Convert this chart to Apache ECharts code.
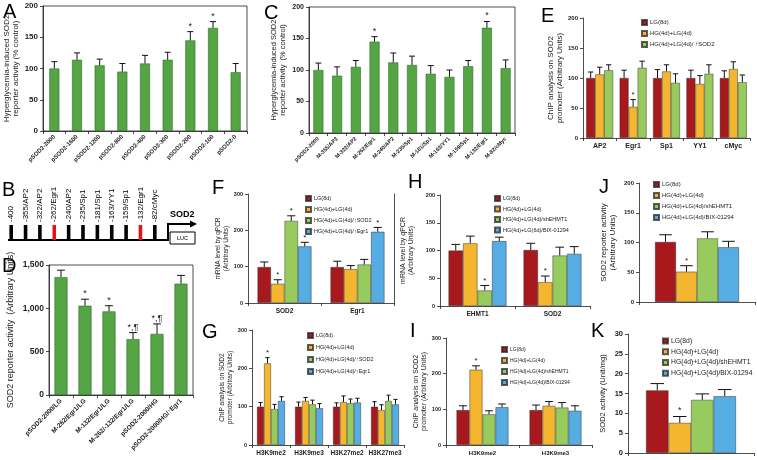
<!DOCTYPE html>
<html><head><meta charset="utf-8">
<script src="https://cdn.jsdelivr.net/npm/echarts@6/dist/echarts.min.js"></script>
<style>html,body{margin:0;padding:0;background:#fff}#c{width:757px;height:460px}</style>
</head><body><div id="c"></div>
<script>
// ---------------- DATA ----------------
const catsA = ['pSOD2-2000','pSOD2-1600','pSOD2-1200','pSOD2-800','pSOD2-400','pSOD2-300','pSOD2-200','pSOD2-100','pSOD2-0'];
const valsA = [100,114,105,95,108,114,145,165,94];
const errsA = [11,11,10,13,13,12,14,10,14];
const marksA = ['','','','','','','*','*',''];

const catsC = ['pSOD2-2000','M-355/AP2','M-322/AP2','M-262/Egr1','M-240/AP2','M-235/Sp1','M-181/Sp1','M-163/YY1','M-159/Sp1','M-132/Egr1','M-82/cMyc'];
const valsC = [100,91,105,145,112,108,94,89,106,167,103];
const errsC = [11,14,10,8,15,14,13,11,9,10,13];
const marksC = ['','','','*','','','','','','*',''];

const siteLabelsB = ['-400','-355/AP2','-322/AP2','-262/Egr1','-240/AP2','-235/Sp1','-181/Sp1','-163/YY1','-159/Sp1','-132/Egr1','-82/cMyc'];
const siteHighlightB = [0,0,0,1,0,0,0,0,0,1,0];

const catsD = ['pSOD2-2000/LG','M-262/Egr1/LG','M-132/Egr1/LG','M-262/-132/Egr1/LG','pSOD2-2000/HG','pSOD2-2000/HG/↑Egr1'];
const valsD = [1360,1030,965,645,705,1285];
const errsD = [80,75,65,75,115,95];
const marksD = ['','*','*','*,¶','*,¶',''];

const catsE = ['AP2','Egr1','Sp1','YY1','cMyc'];
const namesE = ['LG(8d)','HG(4d)+LG(4d)','HG(4d)+LG(4d)/ ↑SOD2'];
const lgE = [100,100,100,100,100];   const lgErrE = [10,13,14,13,12];
const hgE = [106,52,111,90,115];     const hgErrE = [12,12,11,14,12];
const sodE = [113,117,92,107,93];    const sodErrE = [9,11,15,15,12];
const hgMarksE = ['','*','','',''];

const catsF = ['SOD2','Egr1'];
const namesF = ['LG(8d)','HG(4d)+LG(4d)','HG(4d)+LG(4d)/↑SOD2','HG(4d)+LG(4d)/↑Egr1'];
const lgF = [99,99];   const lgErrF = [14,16];
const hgF = [53,93];   const hgErrF = [11,10];
const sodF = [226,106]; const sodErrF = [14,14];
const egrF = [156,196]; const egrErrF = [11,12];
const hgMarksF = ['*',''], sodMarksF = ['*',''], egrMarksF = ['*','*'];

const catsG = ['H3K9me2','H3K9me3','H3K27me2','H3K27me3'];
const lgG = [100,100,100,100];  const lgErrG = [11,12,10,13];
const hgG = [213,115,112,91];   const hgErrG = [15,9,16,14];
const sodG = [94,106,109,115];  const sodErrG = [12,11,11,15];
const egrG = [115,96,111,106];  const egrErrG = [11,12,11,13];
const hgMarksG = ['*','','',''];

const catsH = ['EHMT1','SOD2'];
const namesH = ['LG(8d)','HG(4d)+LG(4d)','HG(4d)+LG(4d)/shEHMT1','HG(4d)+LG(6d)/BIX-01294'];
const lgH = [100,101]; const lgErrH = [11,12];
const hgH = [113,43];  const hgErrH = [13,11];
const shH = [28,91];   const shErrH = [9,15];
const bixH = [117,94]; const bixErrH = [7,13];
const hgMarksH = ['','*'], shMarksH = ['*',''];

const catsI = ['H3K9me2','H3K9me3'];
const namesI = ['LG(8d)','HG(4d)+LG(4d)','HG(4d)+LG(4d)/shEHMT1','HG(4d)+LG(4d)/BIX-01294'];
const lgI = [98,98];   const lgErrI = [12,14];
const hgI = [211,110]; const hgErrI = [11,12];
const shI = [86,105];  const shErrI = [10,14];
const bixI = [106,96]; const bixErrI = [9,14];
const hgMarksI = ['*',''];

const catsJ = [''];
const namesJ = ['LG(8d)','HG(4d)+LG(4d)','HG(4d)+LG(4d)/shEHMT1','HG(4d)+LG(4d)/BIX-01294'];
const lgJ = [101]; const lgErrJ = [12];
const hgJ = [51];  const hgErrJ = [10];
const shJ = [107]; const shErrJ = [11];
const bixJ = [92]; const bixErrJ = [10];
const hgMarksJ = ['*'];

const catsK = [''];
const namesK = ['LG(8d)','HG(4d)+LG(4d)','HG(4d)+LG(4d)/shEHMT1','HG(4d)+LG(4d)/BIX-01294'];
const lgK = [15.8]; const lgErrK = [1.7];
const hgK = [7.6];  const hgErrK = [1.6];
const shK = [13.4]; const shErrK = [1.5];
const bixK = [14.3]; const bixErrK = [1.7];
const hgMarksK = ['*'];

// ---------------- STYLE ----------------
const FONT = '"Liberation Sans", Arial, sans-serif';
const C_DKGREEN = '#55A545', C_RED = '#A8191D', C_YEL = '#F4B52F', C_GRN = '#98CB5D', C_BLUE = '#56ADE4';
const INK = '#222';

const option = {animation:false, backgroundColor:'#fff', grid:[], xAxis:[], yAxis:[], series:[], legend:[], graphic:[]};

function makeErr(k, n, bw, marks, fs) {
  return function (params, api) {
    const i = api.value(0), v = api.value(1), e = api.value(2);
    const c = api.coord([i, v]);
    const t = api.coord([i, v + e]);
    const x = c[0] - n * bw / 2 + bw * (k + 0.5);
    const cap = Math.max(2, bw * 0.3);
    const ch = [
      {type:'line', shape:{x1:x, y1:c[1], x2:x, y2:t[1]}, style:{stroke:'#111', lineWidth:1}},
      {type:'line', shape:{x1:x - cap, y1:t[1], x2:x + cap, y2:t[1]}, style:{stroke:'#111', lineWidth:1}}
    ];
    const m = marks ? marks[params.dataIndex] : '';
    if (m) ch.push({type:'text', x:x, y:t[1] - 1, style:{text:m, fontSize:fs, fontFamily:FONT, fill:INK, align:'center', verticalAlign:'bottom'}});
    return {type:'group', children:ch};
  };
}

function addPanel(p) {
  const gi = option.grid.length;
  option.grid.push({left:p.left, top:p.top, width:p.width, height:p.height, show:!!p.box, borderColor:INK, borderWidth:0.8, backgroundColor:'transparent'});
  option.xAxis.push({type:'category', gridIndex:gi, data:p.cats,
    axisLine:{lineStyle:{color:INK, width:0.8}},
    axisTick:{show:true, length:3, lineStyle:{color:INK, width:0.8}},
    axisLabel:{interval:0, rotate:p.xRotate || 0, fontSize:p.xFs, fontWeight:'bold', fontFamily:FONT, color:INK, margin:p.xMargin || 5}});
  const yi = option.yAxis.length;
  option.yAxis.push({type:'value', gridIndex:gi, min:0, max:p.max, interval:p.interval,
    axisLine:{show:true, lineStyle:{color:INK, width:0.8}},
    axisTick:{show:true, length:3, lineStyle:{color:INK, width:0.8}},
    splitLine:{show:false},
    axisLabel:{fontSize:p.yFs, fontWeight:'bold', fontFamily:FONT, color:INK, margin:p.yMargin || 5},
    name:p.yName, nameLocation:'middle', nameGap:p.nameGap, nameRotate:90,
    nameTextStyle:{fontSize:p.nameFs, fontFamily:FONT, color:INK, lineHeight:p.nameFs + 1, fontWeight:p.nameBold ? 'bold' : 'normal'}});
  if (p.rightLine) {
    option.yAxis.push({type:'value', gridIndex:gi, position:'right', min:0, max:p.max, interval:p.interval,
      axisLine:{show:true, lineStyle:{color:INK, width:0.8}}, axisTick:{show:false}, axisLabel:{show:false}, splitLine:{show:false}});
  }
  const n = p.series.length;
  p.series.forEach((s, k) => {
    option.series.push({type:'bar', name:s.name, xAxisIndex:gi, yAxisIndex:yi, data:s.values,
      barWidth:p.barWidth, barGap:'0%',
      itemStyle:{color:s.color, borderColor:s.border || 'rgba(40,40,40,0.75)', borderWidth:0.6}});
    option.series.push({type:'custom', xAxisIndex:gi, yAxisIndex:yi, encode:{x:0, y:1}, z:5,
      data:s.values.map((v, i) => [i, v, s.errs[i]]),
      renderItem:makeErr(k, n, p.barWidth, s.marks, p.markFs || 8)});
  });
  if (p.legend) {
    option.legend.push({orient:'vertical', left:p.legend.left, top:p.legend.top, icon:'rect',
      itemWidth:5, itemHeight:5, itemGap:p.legend.gap, selectedMode:false, padding:0,
      data:p.series.map(s => s.name),
      textStyle:{fontSize:p.legend.fs, fontFamily:FONT, color:INK, lineHeight:p.legend.fs + 1, padding:[0,0,0,-2]}});
  }
}

function quad(names, vals, errs, marks) {
  const cols = [C_RED, C_YEL, C_GRN, C_BLUE];
  return names.map((nm, k) => ({name:nm, color:cols[k], values:vals[k], errs:errs[k], marks:marks[k]}));
}

// Panel A
addPanel({left:43, top:6, width:204, height:125, box:true, cats:catsA, max:200, interval:50,
  xRotate:45, xFs:6, yFs:8, barWidth:10, markFs:9,
  yName:'Hyperglycemia-induced SOD2\nreporter activity (% control)', nameGap:22, nameFs:8,
  series:[{name:'A', color:C_DKGREEN, border:'#2F6B28', values:valsA, errs:errsA, marks:marksA}]});

// Panel C
addPanel({left:309, top:7, width:206, height:126, box:true, cats:catsC, max:200, interval:50,
  xRotate:45, xFs:5.5, yFs:7, barWidth:10, markFs:9,
  yName:'Hyperglycemia-induced SOD2\nreporter activity  (% control)', nameGap:22, nameFs:7.5,
  series:[{name:'C', color:C_DKGREEN, border:'#2F6B28', values:valsC, errs:errsC, marks:marksC}]});

// Panel D
addPanel({left:49, top:265, width:144, height:130, box:true, cats:catsD, max:1500, interval:500,
  xRotate:45, xFs:6.5, yFs:8.5, barWidth:13, markFs:9,
  yName:'SOD2 reporter activity  (Arbitrary Units)', nameGap:33, nameFs:9,
  series:[{name:'D', color:C_DKGREEN, border:'#2F6B28', values:valsD, errs:errsD, marks:marksD}]});

// Panel E
addPanel({left:583, top:18, width:167, height:120, cats:catsE, max:200, interval:50,
  xFs:7, yFs:6, barWidth:9, markFs:8,
  yName:'ChIP analysis on SOD2\npromoter (Arbitrary Units)', nameGap:14, nameFs:8,
  legend:{left:641, top:19, gap:4, fs:6},
  series:[{name:namesE[0], color:C_RED, values:lgE, errs:lgErrE, marks:null},
          {name:namesE[1], color:C_YEL, values:hgE, errs:hgErrE, marks:hgMarksE},
          {name:namesE[2], color:C_GRN, values:sodE, errs:sodErrE, marks:null}]});

// Panel F
addPanel({left:248, top:194, width:146, height:109, rightLine:true, cats:catsF, max:300, interval:100,
  xFs:6.5, yFs:5.5, barWidth:13.5, markFs:8,
  yName:'mRNA level by qPCR\n(Arbitrary Units)', nameGap:15, nameFs:6.5,
  legend:{left:305, top:195, gap:4, fs:5.5},
  series:quad(namesF, [lgF,hgF,sodF,egrF], [lgErrF,hgErrF,sodErrF,egrErrF], [null,hgMarksF,sodMarksF,egrMarksF])});

// Panel G
addPanel({left:252, top:330, width:152, height:115, cats:catsG, max:300, interval:100,
  xFs:6.5, yFs:5.5, barWidth:7, markFs:8,
  yName:'ChIP analysis on SOD2\npromoter (Arbitrary Units)', nameGap:15, nameFs:6.5,
  legend:{left:307, top:332, gap:5, fs:5.5},
  series:quad(namesF, [lgG,hgG,sodG,egrG], [lgErrG,hgErrG,sodErrG,egrErrG], [null,hgMarksG,null,null])});

// Panel H
addPanel({left:440, top:195, width:150, height:111, cats:catsH, max:200, interval:50,
  xFs:6.5, yFs:5.5, barWidth:14.5, markFs:8,
  yName:'mRNA level by qPCR\n(Arbitrary Units)', nameGap:25, nameFs:7,
  legend:{left:494, top:195, gap:3.5, fs:5.5},
  series:quad(namesH, [lgH,hgH,shH,bixH], [lgErrH,hgErrH,shErrH,bixErrH], [null,hgMarksH,shMarksH,null])});

// Panel I
addPanel({left:446, top:338, width:146, height:107, cats:catsI, max:300, interval:100,
  xFs:6, yFs:5.5, barWidth:13, markFs:8,
  yName:'ChIP analysis on SOD2\npromoter (Arbitrary Units)', nameGap:14, nameFs:7,
  legend:{left:501, top:346, gap:4, fs:5},
  series:quad(namesI, [lgI,hgI,shI,bixI], [lgErrI,hgErrI,shErrI,bixErrI], [null,hgMarksI,null,null])});

// Panel J
addPanel({left:639, top:183, width:116, height:119, cats:catsJ, max:200, interval:50,
  xFs:6, yFs:6, barWidth:21, markFs:8,
  yName:'SOD2 reporter activity\n(Arbitrary Units)', nameGap:22, nameFs:8,
  legend:{left:653, top:181, gap:4, fs:6},
  series:quad(namesJ, [lgJ,hgJ,shJ,bixJ], [lgErrJ,hgErrJ,shErrJ,bixErrJ], [null,hgMarksJ,null,null])});

// Panel K
addPanel({left:628, top:334, width:126, height:119, cats:catsK, max:30, interval:5,
  xFs:6, yFs:7.5, barWidth:22.5, markFs:9,
  yName:'SOD2 activity (Unit/mg)', nameGap:21, nameFs:7.5,
  legend:{left:662, top:337, gap:3, fs:6.8},
  series:quad(namesK, [lgK,hgK,shK,bixK], [lgErrK,hgErrK,shErrK,bixErrK], [null,hgMarksK,null,null])});

// Panel B schematic (sites on a category axis)
(function () {
  const gi = option.grid.length;
  option.grid.push({left:4, top:225, width:158, height:15});
  option.xAxis.push({type:'category', gridIndex:gi, data:siteLabelsB, show:false});
  option.yAxis.push({type:'value', gridIndex:gi, min:0, max:1, show:false});
  option.series.push({type:'custom', xAxisIndex:gi, yAxisIndex:option.yAxis.length - 1, encode:{x:0, y:1},
    data:siteHighlightB.map((h, i) => [i, 1, h]),
    renderItem:function (params, api) {
      const i = api.value(0), h = api.value(2);
      const b = api.coord([i, 0]), t = api.coord([i, 1]);
      return {type:'group', children:[
        {type:'rect', shape:{x:b[0] - 1.8, y:t[1], width:3.6, height:b[1] - t[1]}, style:{fill:h ? '#E0141B' : '#000'}},
        {type:'text', x:b[0], y:t[1] - 3, rotation:Math.PI / 2,
          style:{text:siteLabelsB[params.dataIndex], fontSize:8, fontFamily:FONT, fill:'#000', align:'left', verticalAlign:'middle'}}
      ]};
    }});
})();

// decorations: baseline, arrow, LUC box, panel letters
option.graphic = [
  {type:'polyline', shape:{points:[[8,240],[168,240],[168,224],[191,224]]}, style:{stroke:'#000', lineWidth:2, fill:null}},
  {type:'polygon', shape:{points:[[190,220.5],[197,224],[190,227.5]]}, style:{fill:'#000'}},
  {type:'text', x:170, y:219, style:{text:'SOD2', fontSize:9, fontWeight:'bold', fontFamily:FONT, fill:'#000', verticalAlign:'bottom'}},
  {type:'rect', shape:{x:170, y:232, width:25, height:12}, style:{fill:'#fff', stroke:'#000', lineWidth:1}},
  {type:'text', x:182.5, y:238, style:{text:'LUC', fontSize:5.5, fontFamily:FONT, fill:'#000', align:'center', verticalAlign:'middle'}}
];
const letters = [['A',3,2],['C',264,3],['E',541,6],['B',2,180],['D',2,256],['F',212,178],['G',202,322],['H',408,172],['I',410,321],['J',599,177],['K',591,321]];
letters.forEach(l => option.graphic.push({type:'text', x:l[1], y:l[2], style:{text:l[0], fontSize:20, fontFamily:FONT, fill:'#000'}}));

const chart = echarts.init(document.getElementById('c'), null, {renderer:'canvas'});
chart.setOption(option);
</script></body></html>
